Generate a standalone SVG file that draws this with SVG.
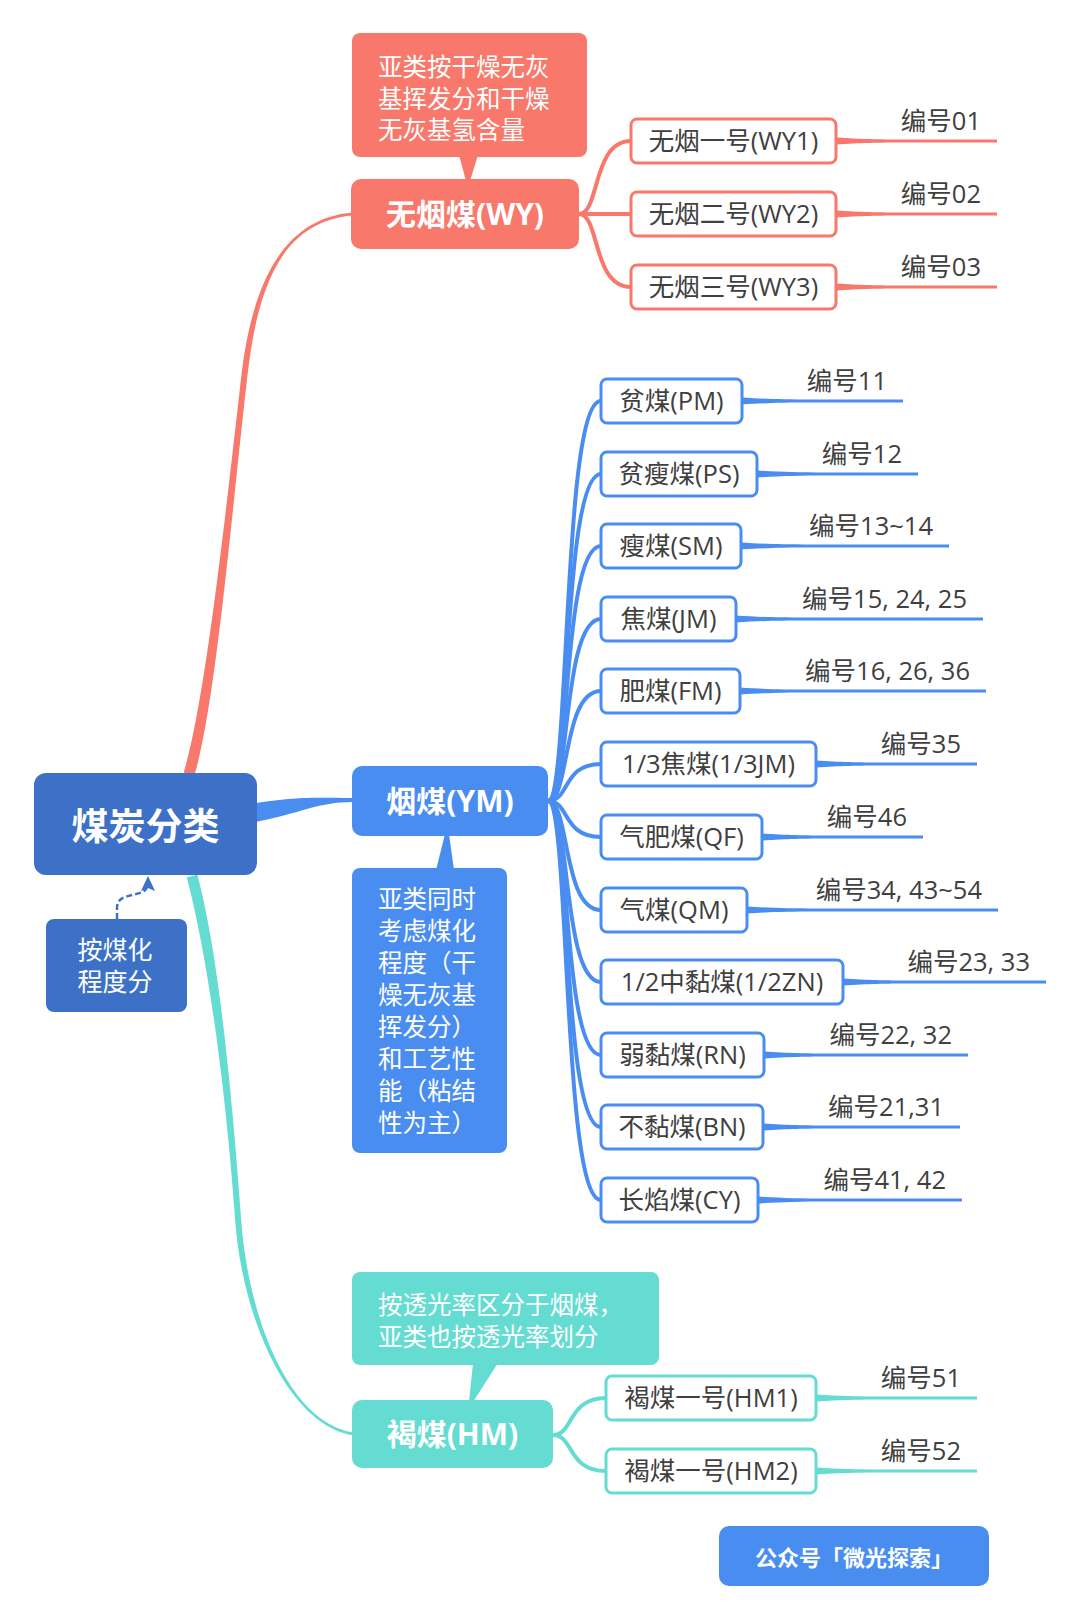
<svg xmlns="http://www.w3.org/2000/svg" width="1080" height="1619" viewBox="0 0 1080 1619">
<defs>
<style>
text{font-family:'Open Sans','Noto Sans CJK SC',sans-serif}
.sub{font-size:25.5px;fill:#404040;text-anchor:middle}
.lbl{font-size:25.5px;fill:#404040;text-anchor:end}
.note{font-size:24.5px;fill:#fff}
.main{font-size:30px;font-weight:bold;fill:#fff;text-anchor:middle}
.red{fill:#F8796B}
.blue{fill:#4A8DF0}
.teal{fill:#65DCD1}
.dark{fill:#3C71C7}
.rb{fill:#fff;stroke:#F8796B;stroke-width:3}
.bb{fill:#fff;stroke:#4A8DF0;stroke-width:3}
.tb{fill:#fff;stroke:#65DCD1;stroke-width:3}
.rc{fill:none;stroke:#F8796B;stroke-width:4;stroke-linecap:round}
.bc{fill:none;stroke:#4A8DF0;stroke-width:4;stroke-linecap:round}
.tc{fill:none;stroke:#65DCD1;stroke-width:4;stroke-linecap:round}
</style>
</defs>
<rect width="1080" height="1619" fill="#fff"/>

<g id="connectors">
<path class="red" d="M194.3,775.6 C215.3,706.6 231,520.3 247,379.3 C256,300.3 275.1,221.5 353,215.5 L353,212.5 C274.9,218.5 250,299.7 241,378.7 C225,519.7 204.7,703.4 183.7,772.4 Z"/>
<path class="blue" d="M250,823 C301.6,813.9 315,802 354,802 L354,798 C315,798 298.4,796.2 250,804 Z"/>
<path class="teal" d="M197.3,874.6 C217.3,948.6 231,1079.8 241,1217.8 C248,1319.8 290.2,1423.5 354,1432.5 L354,1435.5 C289.8,1426.5 242,1320.2 235,1218.2 C225,1080.2 206.7,951.4 186.7,877.4 Z"/>
<path class="rc" d="M579,214 C600,214 592,141 631,141"/>
<path class="rc" d="M579,214 H631"/>
<path class="rc" d="M579,214 C600,214 592,287 631,287"/>
<path class="bc" d="M548,801 C570,801 562,401 601,401"/>
<path class="bc" d="M548,801 C570,801 562,474 601,474"/>
<path class="bc" d="M548,801 C570,801 562,546 601,546"/>
<path class="bc" d="M548,801 C570,801 562,619 601,619"/>
<path class="bc" d="M548,801 C570,801 562,691 601,691"/>
<path class="bc" d="M548,801 C570,801 562,764 601,764"/>
<path class="bc" d="M548,801 C570,801 562,837 601,837"/>
<path class="bc" d="M548,801 C570,801 562,910 601,910"/>
<path class="bc" d="M548,801 C570,801 562,982 601,982"/>
<path class="bc" d="M548,801 C570,801 562,1055 601,1055"/>
<path class="bc" d="M548,801 C570,801 562,1127 601,1127"/>
<path class="bc" d="M548,801 C570,801 562,1200 601,1200"/>
<path class="tc" d="M553,1435 C574,1435 567,1398 606,1398"/>
<path class="tc" d="M553,1435 C574,1435 567,1471 606,1471"/>
<path class="red" d="M836,137.5 C861,139 876,139.5 906,139.5 H997 V142.5 H906 C876,142.5 861,143 836,144.5 Z"/>
<path class="red" d="M836,210.5 C861,212 876,212.5 906,212.5 H997 V215.5 H906 C876,215.5 861,216 836,217.5 Z"/>
<path class="red" d="M836,283.5 C861,285 876,285.5 906,285.5 H997 V288.5 H906 C876,288.5 861,289 836,290.5 Z"/>
<path class="blue" d="M742,397.5 C767,399 782,399.5 812,399.5 H903 V402.5 H812 C782,402.5 767,403 742,404.5 Z"/>
<path class="blue" d="M757,470.5 C782,472 797,472.5 827,472.5 H918 V475.5 H827 C797,475.5 782,476 757,477.5 Z"/>
<path class="blue" d="M741,542.5 C766,544 781,544.5 811,544.5 H949 V547.5 H811 C781,547.5 766,548 741,549.5 Z"/>
<path class="blue" d="M736,615.5 C761,617 776,617.5 806,617.5 H983 V620.5 H806 C776,620.5 761,621 736,622.5 Z"/>
<path class="blue" d="M740,687.5 C765,689 780,689.5 810,689.5 H986 V692.5 H810 C780,692.5 765,693 740,694.5 Z"/>
<path class="blue" d="M816,760.5 C841,762 856,762.5 886,762.5 H977 V765.5 H886 C856,765.5 841,766 816,767.5 Z"/>
<path class="blue" d="M762,833.5 C787,835 802,835.5 832,835.5 H923 V838.5 H832 C802,838.5 787,839 762,840.5 Z"/>
<path class="blue" d="M747,906.5 C772,908 787,908.5 817,908.5 H998 V911.5 H817 C787,911.5 772,912 747,913.5 Z"/>
<path class="blue" d="M843,978.5 C868,980 883,980.5 913,980.5 H1046 V983.5 H913 C883,983.5 868,984 843,985.5 Z"/>
<path class="blue" d="M764,1051.5 C789,1053 804,1053.5 834,1053.5 H968 V1056.5 H834 C804,1056.5 789,1057 764,1058.5 Z"/>
<path class="blue" d="M763,1123.5 C788,1125 803,1125.5 833,1125.5 H960 V1128.5 H833 C803,1128.5 788,1129 763,1130.5 Z"/>
<path class="blue" d="M758,1196.5 C783,1198 798,1198.5 828,1198.5 H962 V1201.5 H828 C798,1201.5 783,1202 758,1203.5 Z"/>
<path class="teal" d="M816,1394.5 C841,1396 856,1396.5 886,1396.5 H977 V1399.5 H886 C856,1399.5 841,1400 816,1401.5 Z"/>
<path class="teal" d="M816,1467.5 C841,1469 856,1469.5 886,1469.5 H977 V1472.5 H886 C856,1472.5 841,1473 816,1474.5 Z"/>
<path d="M117,919 V908 C117,898 125,897 132,895 C140,893 146,892 147,887" fill="none" stroke="#3C71C7" stroke-width="2.5" stroke-dasharray="6,3"/>
<polygon points="148,876 155,891 148,888 141,891" fill="#3C71C7"/>
</g>

<g id="root">
<rect x="34" y="773" width="223" height="102" rx="12" class="dark"/>
<text x="145.5" y="840" text-anchor="middle" fill="#fff" font-size="37" font-weight="bold">煤炭分类</text>
</g>
<g id="root-note">
<rect x="46" y="919" width="141" height="93" rx="8" class="dark"/>
<text x="115" y="959" text-anchor="middle" fill="#fff" font-size="25">按煤化</text>
<text x="115" y="991" text-anchor="middle" fill="#fff" font-size="25">程度分</text>
</g>

<g id="wy-note">
<rect x="352" y="33" width="235" height="124" rx="8" class="red"/>
<polygon points="459,155 478,155 470,181 466,181" class="red"/>
<text class="note" x="378" y="76">亚类按干燥无灰</text>
<text class="note" x="378" y="107.5">基挥发分和干燥</text>
<text class="note" x="378" y="139">无灰基氢含量</text>
</g>
<g id="wy">
<rect x="351" y="179" width="228" height="70" rx="10" class="red"/>
<text class="main" x="465" y="225">无烟煤(WY)</text>
</g>
<g id="wy1"><rect x="631" y="119" width="205" height="44" rx="6" class="rb"/><text class="sub" x="733.5" y="150">无烟一号(WY1)</text><text class="lbl" x="981" y="130">编号01</text></g>
<g id="wy2"><rect x="631" y="192" width="205" height="44" rx="6" class="rb"/><text class="sub" x="733.5" y="223">无烟二号(WY2)</text><text class="lbl" x="981" y="203">编号02</text></g>
<g id="wy3"><rect x="631" y="265" width="205" height="44" rx="6" class="rb"/><text class="sub" x="733.5" y="296">无烟三号(WY3)</text><text class="lbl" x="981" y="276">编号03</text></g>

<g id="ym">
<rect x="352" y="766" width="196" height="70" rx="10" class="blue"/>
<text class="main" x="450" y="812">烟煤(YM)</text>
</g>
<g id="ym-note">
<rect x="352" y="868" width="155" height="285" rx="8" class="blue"/>
<polygon points="436,870 454,870 449,834 445,834" class="blue"/>
<text class="note" x="378" y="908">亚类同时</text>
<text class="note" x="378" y="940">考虑煤化</text>
<text class="note" x="378" y="972">程度（干</text>
<text class="note" x="378" y="1004">燥无灰基</text>
<text class="note" x="378" y="1036">挥发分）</text>
<text class="note" x="378" y="1068">和工艺性</text>
<text class="note" x="378" y="1100">能（粘结</text>
<text class="note" x="378" y="1132">性为主）</text>
</g>
<g id="pm"><rect x="601" y="379" width="141" height="44" rx="6" class="bb"/><text class="sub" x="671.5" y="410">贫煤(PM)</text><text class="lbl" x="887" y="390">编号11</text></g>
<g id="ps"><rect x="601" y="452" width="156" height="44" rx="6" class="bb"/><text class="sub" x="679" y="483">贫瘦煤(PS)</text><text class="lbl" x="902" y="463">编号12</text></g>
<g id="sm"><rect x="601" y="524" width="140" height="44" rx="6" class="bb"/><text class="sub" x="671" y="555">瘦煤(SM)</text><text class="lbl" x="933" y="535">编号13~14</text></g>
<g id="jm"><rect x="601" y="597" width="135" height="44" rx="6" class="bb"/><text class="sub" x="668.5" y="628">焦煤(JM)</text><text class="lbl" x="967" y="608">编号15, 24, 25</text></g>
<g id="fm"><rect x="601" y="669" width="139" height="44" rx="6" class="bb"/><text class="sub" x="670.5" y="700">肥煤(FM)</text><text class="lbl" x="970" y="680">编号16, 26, 36</text></g>
<g id="jm13"><rect x="601" y="742" width="215" height="44" rx="6" class="bb"/><text class="sub" x="708.5" y="773">1/3焦煤(1/3JM)</text><text class="lbl" x="961" y="753">编号35</text></g>
<g id="qf"><rect x="601" y="815" width="161" height="44" rx="6" class="bb"/><text class="sub" x="681.5" y="846">气肥煤(QF)</text><text class="lbl" x="907" y="826">编号46</text></g>
<g id="qm"><rect x="601" y="888" width="146" height="44" rx="6" class="bb"/><text class="sub" x="674" y="919">气煤(QM)</text><text class="lbl" x="982" y="899">编号34, 43~54</text></g>
<g id="zn"><rect x="601" y="960" width="242" height="44" rx="6" class="bb"/><text class="sub" x="722" y="991">1/2中黏煤(1/2ZN)</text><text class="lbl" x="1030" y="971">编号23, 33</text></g>
<g id="rn"><rect x="601" y="1033" width="163" height="44" rx="6" class="bb"/><text class="sub" x="682.5" y="1064">弱黏煤(RN)</text><text class="lbl" x="952" y="1044">编号22, 32</text></g>
<g id="bn"><rect x="601" y="1105" width="162" height="44" rx="6" class="bb"/><text class="sub" x="682" y="1136">不黏煤(BN)</text><text class="lbl" x="944" y="1116">编号21,31</text></g>
<g id="cy"><rect x="601" y="1178" width="157" height="44" rx="6" class="bb"/><text class="sub" x="679.5" y="1209">长焰煤(CY)</text><text class="lbl" x="946" y="1189">编号41, 42</text></g>

<g id="hm-note">
<rect x="352" y="1272" width="307" height="93" rx="8" class="teal"/>
<polygon points="473,1363 498,1363 473,1402 469,1402" class="teal"/>
<text class="note" x="378" y="1314">按透光率区分于烟煤，</text>
<text class="note" x="378" y="1346">亚类也按透光率划分</text>
</g>
<g id="hm">
<rect x="352" y="1400" width="201" height="68" rx="10" class="teal"/>
<text class="main" x="452.5" y="1445">褐煤(HM)</text>
</g>
<g id="hm1"><rect x="606" y="1376" width="210" height="44" rx="6" class="tb"/><text class="sub" x="711" y="1407">褐煤一号(HM1)</text><text class="lbl" x="961" y="1387">编号51</text></g>
<g id="hm2"><rect x="606" y="1449" width="210" height="44" rx="6" class="tb"/><text class="sub" x="711" y="1480">褐煤一号(HM2)</text><text class="lbl" x="961" y="1460">编号52</text></g>

<g id="footer">
<rect x="719" y="1526" width="270" height="60" rx="10" class="blue"/>
<text x="854" y="1565.5" text-anchor="middle" fill="#fff" font-size="22" font-weight="bold">公众号「微光探索」</text>
</g>
</svg>
